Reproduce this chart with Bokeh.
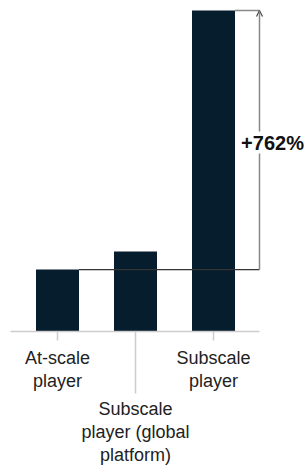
from bokeh.plotting import figure
from bokeh.models import Range1d, Arrow, OpenHead, Label, ColumnDataSource
from bokeh.core.properties import value
from bokeh.embed import file_html
from bokeh.resources import INLINE

# ---- data ----
categories = ["At-scale\nplayer", "Subscale\nplayer (global\nplatform)", "Subscale\nplayer"]
values = [100, 129, 518]
change_label = "+762%"

# ---- layout constants (pixels inside the figure) ----
W, H = 308, 465
PX_X0, PX_STEP = 57, 78        # pixel x of first category, spacing
BASE_Y, TOP_Y = 331, 10        # pixel y (from top) of zero and of max value
BAR_W = 43 / PX_STEP

scale = (BASE_Y - TOP_Y) / max(values)
x_start = -PX_X0 / PX_STEP
x_end = (W - PX_X0) / PX_STEP
y_start = -(H - BASE_Y) / scale
y_end = BASE_Y / scale

def px_y(py):
    """figure pixel (from top) -> data y"""
    return (BASE_Y - py) / scale

def px_x(px):
    return (px - PX_X0) / PX_STEP

xs = list(range(len(categories)))

p = figure(width=W, height=H, output_backend="svg", toolbar_location=None,
           x_range=Range1d(x_start, x_end), y_range=Range1d(y_start, y_end),
           min_border=0)
p.axis.visible = False
p.grid.visible = False
p.outline_line_color = None
p.background_fill_color = "white"
p.border_fill_color = "white"

FONT = "Liberation Sans"
BAR = "#061D2D"

src = ColumnDataSource(dict(x=xs, top=values, label=categories))
p.vbar(x="x", top="top", width=BAR_W, bottom=0, source=src,
       fill_color=BAR, line_color=None)

# baseline
p.segment(x0=[px_x(10)], y0=[0], x1=[px_x(259)], y1=[0], line_color="#cccccc", line_width=1.5)

# tick marks
tick_len = [px_y(BASE_Y + 9), px_y(BASE_Y + 62), px_y(BASE_Y + 9)]
p.segment(x0=xs, y0=[0] * 3, x1=xs, y1=tick_len, line_color="#cccccc", line_width=1.5)

# category labels
label_top = [px_y(BASE_Y + 16), px_y(BASE_Y + 67), px_y(BASE_Y + 16)]
p.text(x=xs, y=label_top, text=categories, text_align="center", text_baseline="top",
       text_font=value(FONT), text_font_size="18px", text_color="#222222",
       text_line_height=1.15)

# reference annotation
xr = px_x(259)
p.segment(x0=[0 + BAR_W / 2], y0=[values[0]], x1=[xr], y1=[values[0]],
          line_color="#333333", line_width=1.2)
p.segment(x0=[2 + BAR_W / 2], y0=[values[2]], x1=[xr], y1=[values[2]],
          line_color="#888888", line_width=1.5)
p.add_layout(Arrow(end=OpenHead(size=6, line_color="#444444", line_width=1.2),
                   x_start=xr, y_start=values[0], x_end=xr, y_end=values[2],
                   line_color="#888888", line_width=1.5))

p.add_layout(Label(x=xr, y=px_y(142), text=change_label, text_align="center",
                   text_baseline="middle", text_font=FONT, text_font_size="20px",
                   text_font_style="bold", text_color="#111111",
                   background_fill_color="white", x_offset=13))

open("out.html", "w").write(file_html(p, INLINE))
